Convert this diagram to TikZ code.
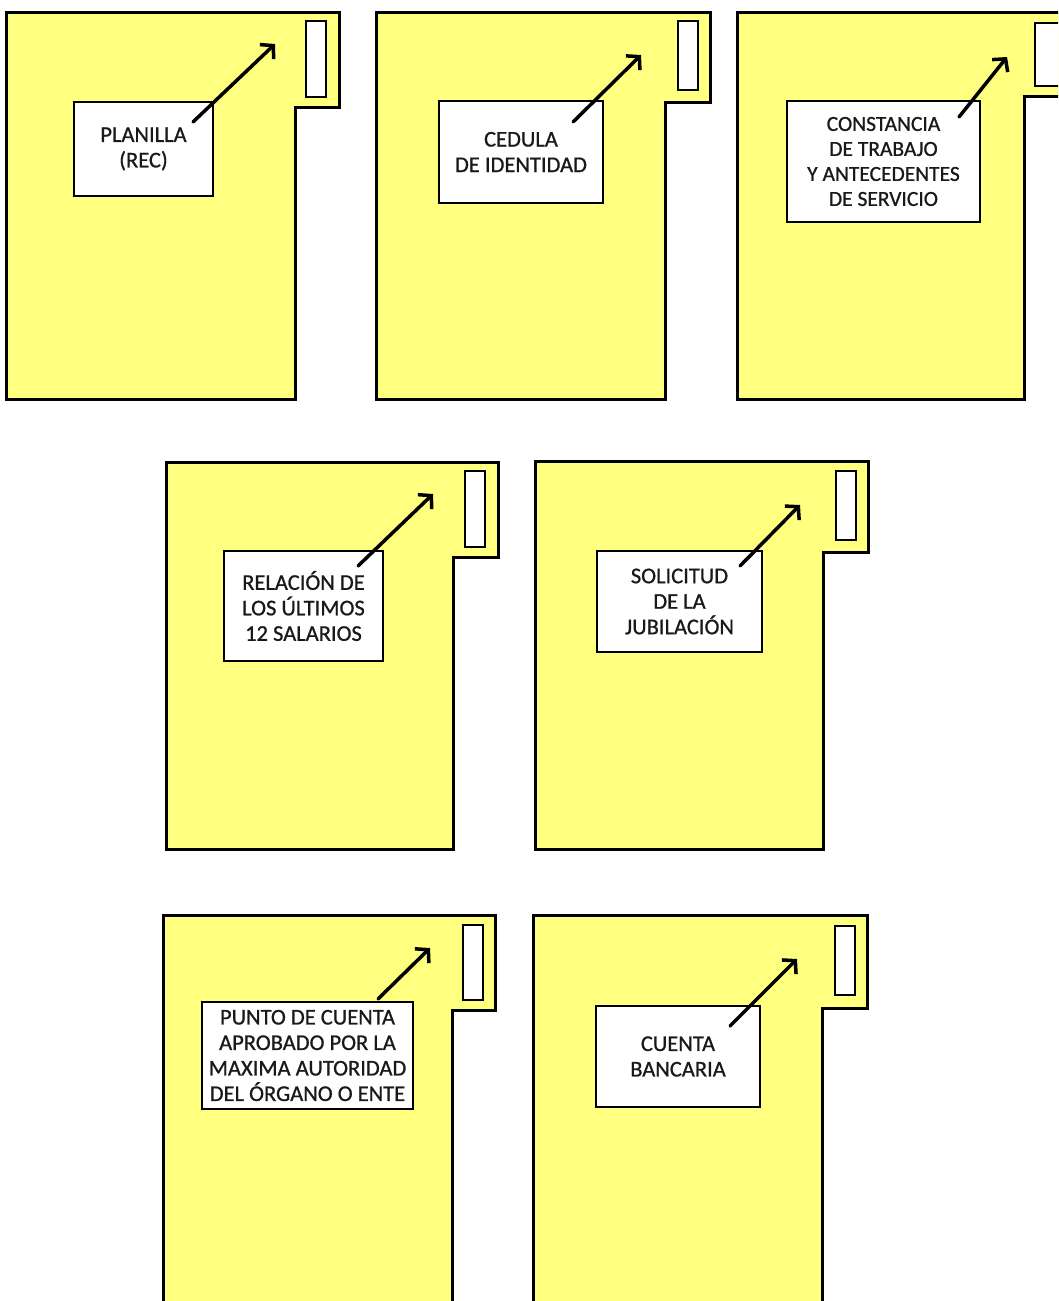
\documentclass[tikz,border=0pt]{standalone}
\usepackage{fontspec}
\setmainfont{Carlito}[FakeBold=1]
\newfontfamily\lblfont{Carlito}[FakeBold=0.8]
\usetikzlibrary{arrows.meta}
\definecolor{folderyellow}{RGB}{255,255,128}
\definecolor{inkgray}{RGB}{25,25,25}
\begin{document}
\begin{tikzpicture}[x=1pt,y=-1pt,
  folder/.style={draw=black, fill=folderyellow, line width=3pt, line join=miter},
  tabslot/.style={draw=black, fill=white, line width=2.5pt},
  lbl/.style={draw=black, fill=white, line width=2.5pt, align=center,
    font=\lblfont\fontsize{22.5}{25.5}\selectfont, text=inkgray, inner sep=0pt},
  smalllbl/.style={lbl, font=\lblfont\fontsize{21.5}{25}\selectfont},
  arr/.style={line width=3.5pt, line cap=round, -{Straight Barb[length=9pt,width=20pt]}}]
\useasboundingbox (0,0) rectangle (1058,1301);
\clip (0,0) rectangle (1058,1301);

% folders
\draw[folder] (6,12) -- (339,12) -- (339,107) -- (295,107) -- (295,399) -- (6,399) -- cycle;
\draw[tabslot] (306,21) rectangle (326,97);
\draw[folder] (376,12) -- (710,12) -- (710,102) -- (665,102) -- (665,399) -- (376,399) -- cycle;
\draw[tabslot] (678,21) rectangle (698,90);
\draw[folder] (737,12) -- (1090,12) -- (1090,96) -- (1024,96) -- (1024,399) -- (737,399) -- cycle;
\draw[tabslot] (1035,23) rectangle (1075,86);
\draw[folder] (166,462) -- (498,462) -- (498,557) -- (453,557) -- (453,849) -- (166,849) -- cycle;
\draw[tabslot] (465,471) rectangle (485,547);
\draw[folder] (535,461) -- (868,461) -- (868,552) -- (823,552) -- (823,849) -- (535,849) -- cycle;
\draw[tabslot] (836,471) rectangle (856,540);
\draw[folder] (163,915) -- (495,915) -- (495,1010) -- (452,1010) -- (452,1330) -- (163,1330) -- cycle;
\draw[tabslot] (463,925) rectangle (483,1000);
\draw[folder] (533,915) -- (867,915) -- (867,1008) -- (822,1008) -- (822,1330) -- (533,1330) -- cycle;
\draw[tabslot] (835,926) rectangle (855,995);

% labels
\node[lbl, minimum width=139pt, minimum height=94pt] (b1) at (143.5,149) {PLANILLA\\(REC)};
\node[lbl, minimum width=164pt, minimum height=102pt] (b2) at (521,152) {CEDULA\\DE IDENTIDAD};
\node[smalllbl, minimum width=193pt, minimum height=121pt] (b3) at (883.5,161.5) {CONSTANCIA\\DE TRABAJO\\Y ANTECEDENTES\\DE SERVICIO};
\node[lbl, minimum width=159pt, minimum height=110pt] (b4) at (303.5,606) {RELACIÓN DE\\LOS ÚLTIMOS\\12 SALARIOS};
\node[lbl, minimum width=165pt, minimum height=101pt] (b5) at (679.5,601.5) {SOLICITUD\\DE LA\\JUBILACIÓN};
\node[lbl, minimum width=211pt, minimum height=107pt] (b6) at (307.5,1055.5) {PUNTO DE CUENTA\\APROBADO POR LA\\MAXIMA AUTORIDAD\\DEL ÓRGANO O ENTE};
\node[lbl, minimum width=164pt, minimum height=101pt] (b7) at (678,1056.5) {CUENTA\\BANCARIA};

% arrows
\coordinate (s1) at (193,122); \coordinate (e1) at (275,44);
\coordinate (s2) at (573,122); \coordinate (e2) at (641,55);
\coordinate (s3) at (959,117); \coordinate (e3) at (1007,57);
\coordinate (s4) at (358,566); \coordinate (e4) at (433,494);
\coordinate (s5) at (740,566); \coordinate (e5) at (800,505);
\coordinate (s6) at (378,999); \coordinate (e6) at (430,948);
\coordinate (s7) at (730,1026); \coordinate (e7) at (797,959);
\draw[arr] (s1) -- (e1);
\draw[arr] (s2) -- (e2);
\draw[arr] (s3) -- (e3);
\draw[arr] (s4) -- (e4);
\draw[arr] (s5) -- (e5);
\draw[arr] (s6) -- (e6);
\draw[arr] (s7) -- (e7);
\end{tikzpicture}
\end{document}
